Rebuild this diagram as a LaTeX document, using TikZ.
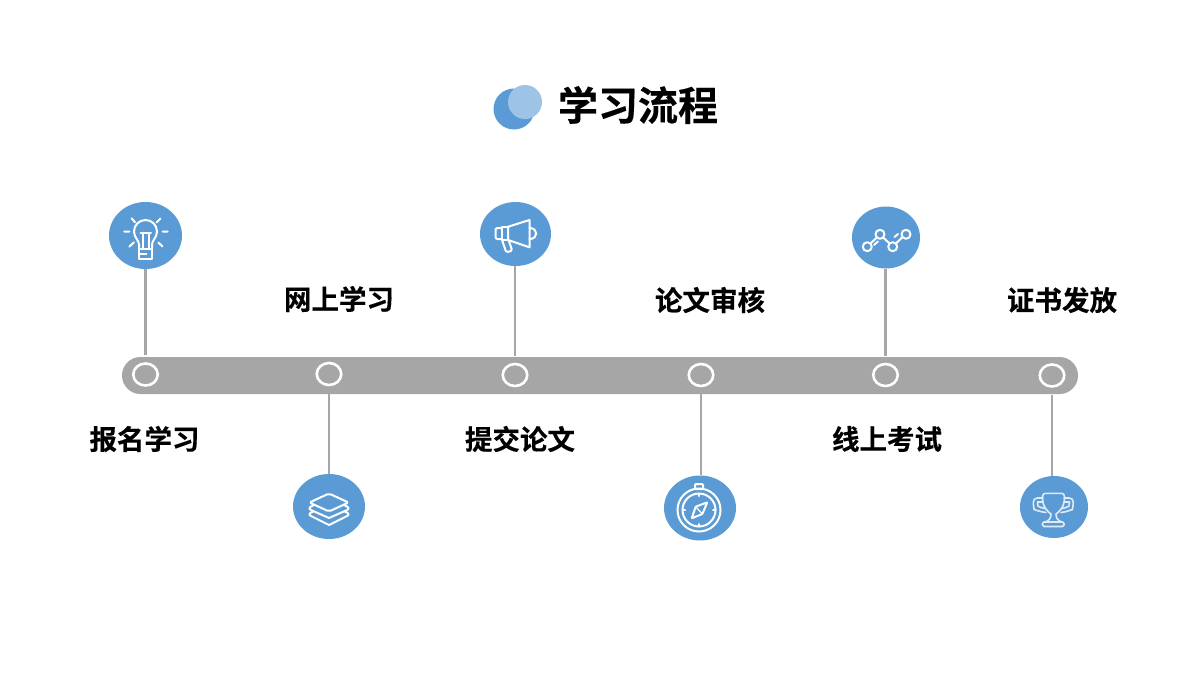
\documentclass[tikz,border=0pt]{standalone}
\usepackage{fontspec}
\setmainfont{Noto Sans CJK SC}[BoldFont={Noto Sans CJK SC Bold},BoldFeatures={FakeBold=0.4}]
\usetikzlibrary{shapes.geometric,backgrounds}
\definecolor{blueA}{HTML}{5B9BD5}
\definecolor{blueB}{HTML}{9DC3E6}
\definecolor{barc}{HTML}{A6A6A6}
\tikzset{
  x=1pt,y=-1pt,
  icondisc/.style={ellipse,fill=blueA,inner sep=0pt,minimum width=#1},
  ringmark/.style={ellipse,draw=white,line width=2.6pt,inner sep=0pt,minimum width=24.5pt,minimum height=22pt},
  stemline/.style={draw=barc,line width=2.4pt},
  lbl/.style={font=\bfseries\fontsize{27.5}{30}\selectfont,text=black,inner sep=0pt},
  ttl/.style={font=\bfseries\fontsize{40}{44}\selectfont,text=black,inner sep=0pt},
  glyph/.style={draw=white,line width=2pt,line cap=round,line join=round},
  thinglyph/.style={draw=white!80!blueA,line width=1.6pt,line cap=round,line join=round},
}
\begin{document}
\begin{tikzpicture}
\useasboundingbox (0,0) rectangle (1200,675);
% title
\fill[blueA] (514,109) circle[radius=20.5];
\fill[blueB] (525,102) circle[radius=17];
\node[ttl] (title) at (638,105) {学习流程};
% rings
\node[ringmark] (r1) at (145.5,374.5) {};
\node[ringmark] (r2) at (329,374) {};
\node[ringmark] (r3) at (515,375) {};
\node[ringmark] (r4) at (701,375) {};
\node[ringmark] (r5) at (885.5,375) {};
\node[ringmark] (r6) at (1052,375.5) {};
\begin{scope}[on background layer]
\fill[white] (0,0) rectangle (1200,675);
\fill[barc,rounded corners=18.4pt] (122,357) rectangle (1078,394);
\end{scope}
% discs
\node[icondisc=73pt,minimum height=67pt] (i1) at (145.5,235.5) {};
\node[icondisc=72pt,minimum height=65pt] (i2) at (329,506.5) {};
\node[icondisc=71pt,minimum height=64pt] (i3) at (515.5,234) {};
\node[icondisc=72pt,minimum height=65pt] (i4) at (700,508) {};
\node[icondisc=68pt,minimum height=62pt] (i5) at (886,237.5) {};
\node[icondisc=68pt,minimum height=62pt] (i6) at (1054,507) {};
% connectors
\path[stemline,shorten >=7pt] (r1.north |- i1.south) -- (r1.north);
\path[stemline,shorten >=7pt] (r3.north |- i3.south) -- (r3.north);
\path[stemline,shorten >=7pt] (r5.north |- i5.south) -- (r5.north);
\path[stemline,shorten >=7pt] (r2.south |- i2.north) -- (r2.south);
\path[stemline,shorten >=7pt] (r4.south |- i4.north) -- (r4.south);
\path[stemline,shorten >=7pt] (r6.south |- i6.north) -- (r6.south);
% labels
\node[lbl] (t1) at (144.5,439) {报名学习};
\node[lbl] (t2) at (339,299) {网上学习};
\node[lbl] (t3) at (520,439) {提交论文};
\node[lbl] (t4) at (710,300) {论文审核};
\node[lbl] (t5) at (887,439) {线上考试};
\node[lbl] (t6) at (1062,300) {证书发放};
% bulb
\begin{scope}[shift={(i1.center)},glyph]
\draw (-6.5,13.5) -- (-6.5,9) .. controls (-6.5,5) and (-11.5,2) .. (-11.5,-4) arc[start angle=180,end angle=0,x radius=11.5,y radius=-11.5] .. controls (11.5,2) and (6.5,5) .. (6.5,9) -- (6.5,13.5);
\draw (-6.5,13.5) rectangle (6.5,23);
\draw (-6.5,18) -- (1,18);
\draw (-3,13.5) -- (-3,-3) (3.5,13.5) -- (3.5,-3) (-5,-3) -- (5.5,-3);
\draw (-13.8,-17.2) -- (-10.5,-13.2) (15,-17) -- (11,-13) (-21.2,-4) -- (-16.2,-4) (17.2,-4) -- (22.2,-4) (-16.2,11.2) -- (-11.5,6.8) (17,11) -- (12.8,7);
\end{scope}
% layers
\begin{scope}[shift={(i2.center)},glyph]
\draw[rounded corners=2pt] (0,-13) -- (19.5,-4) -- (0,5) -- (-19.5,-4) -- cycle;
\draw (-16,-1) .. controls (-21,1) and (-20,3) .. (-17,4) -- (0,11.5) -- (17,4) .. controls (20,3) and (21,1) .. (16,-1);
\draw (-16,5) .. controls (-21,7) and (-20,9) .. (-17,10) -- (0,18.5) -- (17,10) .. controls (20,9) and (21,7) .. (16,5);
\end{scope}
% megaphone
\begin{scope}[shift={(i3.center)},glyph]
\draw (-7.3,-7.3) -- (14,-14) -- (14,13.3) -- (-7.3,6) -- cycle;
\draw (-7.3,-7.3) -- (-14,-7.3) -- (-14,6) -- (-7.3,6);
\draw[rounded corners=2pt] (-14,-6) -- (-20,-6) -- (-20,5) -- (-14,5);
\draw[rounded corners=1.5pt] (-13.3,6.5) -- (-9.3,18.3) -- (-3.3,16.7) -- (-6.7,6.5);
\draw (14,-6) .. controls (23,-6) and (23,5) .. (14,5);
\end{scope}
% compass
\begin{scope}[shift={(i4.center)},glyph]
\draw (-1,2) circle[radius=21.5];
\draw (-1,2) circle[radius=16.5];
\draw[rounded corners=1pt] (-5,-24) rectangle (3,-19);
\draw (-1,-14.5) -- (-1,-12) (-1,16) -- (-1,18.5) (-17.5,2) -- (-15,2) (13,2) -- (15.5,2);
\draw[rounded corners=.6pt] (7.3,-5.7) -- (2.3,6) -- (-8.3,10.3) -- (-4.3,-1.3) -- cycle;
\draw[line width=1.2pt] (-4.3,-1.3) -- (2.3,6);
\end{scope}
% chart
\begin{scope}[shift={(i5.center)},glyph]
\draw (-18.7,9.2) circle[radius=4.5] (-6,-3.2) circle[radius=4.5] (6.7,9.2) circle[radius=4.5] (20,-3.2) circle[radius=4.5];
\draw (-15.5,6) -- (-9.2,0) (-2.8,0) -- (3.5,6) (10,6) -- (16.5,-0.5);
\draw (-12,7.5) -- (-8,4) (8.5,-0.5) -- (12,-3.5);
\end{scope}
% trophy
\begin{scope}[shift={(i6.center)},thinglyph]
\draw[rounded corners=3pt] (-11.5,-8) -- (-11.5,-13.7) -- (10.5,-13.7) -- (10.5,-8);
\draw (-11.5,-9) .. controls (-11.5,0) and (-6,5) .. (-3,7) .. controls (-3,11) and (-5,14) .. (-9,15) (10.5,-9) .. controls (10.5,0) and (5,5) .. (2,7) .. controls (2,11) and (4,14) .. (8,15);
\draw[rounded corners=1.5pt] (-11.5,15) rectangle (10,19.5);
\draw[rounded corners=4pt] (-11.5,-9) -- (-20.7,-9) -- (-20.7,-1) .. controls (-20,2) and (-14,5) .. (-8,5.5);
\draw[rounded corners=4pt] (10.5,-9) -- (19.3,-9) -- (19.3,-1) .. controls (18.5,2) and (13,5) .. (7,5.5);
\draw (-11,-5) -- (-16.5,-5) -- (-16,-1) .. controls (-15,0) and (-12,1) .. (-9,1.5);
\draw (10,-5) -- (15.5,-5) -- (15,-1) .. controls (14,0) and (11,1) .. (8,1.5);
\end{scope}
\end{tikzpicture}
\end{document}
